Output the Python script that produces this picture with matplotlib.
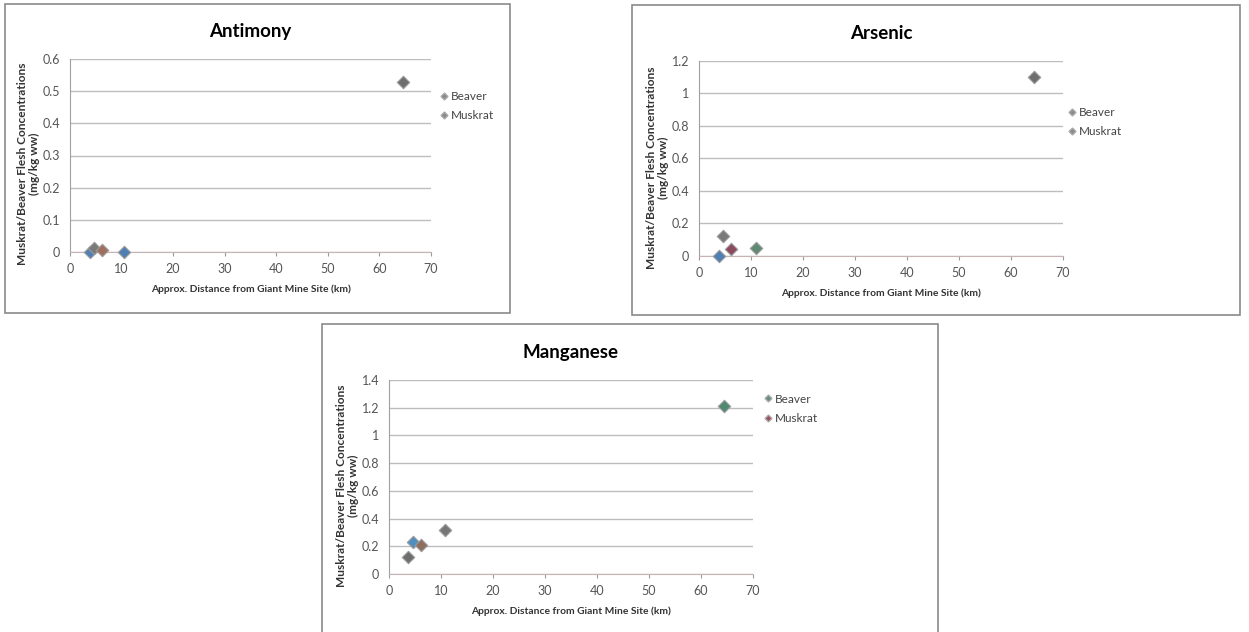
import matplotlib.pyplot as plt
from matplotlib.lines import Line2D
from matplotlib.patches import Rectangle

plt.rcParams["font.family"] = ["Lato", "DejaVu Sans"]

# each panel: one point per sampling site (Excel gave each site its own series colour)
antimony_x = [3.8, 4.6, 6.2, 10.5, 64.5]
antimony_y = [0.0, 0.012, 0.006, 0.0, 0.53]
arsenic_x = [3.8, 4.6, 6.2, 10.9, 64.5]
arsenic_y = [0.0, 0.12, 0.04, 0.05, 1.10]
manganese_x = [3.7, 4.6, 6.2, 10.8, 64.5]
manganese_y = [0.12, 0.23, 0.21, 0.32, 1.21]

antimony_colors = ["#4f7fb3", "#7a7a7a", "#a0705e", "#4f7fb3", "#6e6e6e"]
arsenic_colors = ["#4f7fb3", "#7a7a7a", "#8c4a5c", "#5f8a72", "#6e6e6e"]
manganese_colors = ["#6e6e6e", "#4f8fc0", "#8e6e5e", "#777777", "#4f8a70"]

legend_labels = ["Beaver", "Muskrat"]

y_label = "Muskrat/Beaver Flesh Concentrations\n(mg/kg ww)"
x_label = "Approx. Distance from Giant Mine Site (km)"

W, H = 1249, 632


def frame(fig, x0, y0, x1, y1):
    fig.patches.append(Rectangle((x0 / W, 1 - y1 / H), (x1 - x0) / W, (y1 - y0) / H,
                                 transform=fig.transFigure, fill=False,
                                 edgecolor="#8a8a8a", linewidth=1.2))


def panel(fig, rect, title, xs, ys, colors, ymax, ystep, legend_colors, legend_pos):
    ax = fig.add_axes(rect)
    for x, y, c in zip(xs, ys, colors):
        ax.scatter(x, y, marker="D", s=40, color=c, edgecolor="#9a9a9a",
                   linewidth=0.8, zorder=3, clip_on=False)
    ax.set_xlim(0, 70)
    ax.set_ylim(0, ymax)
    ax.set_xticks(range(0, 71, 10))
    n = int(round(ymax / ystep))
    yt = [round(i * ystep, 2) for i in range(n + 1)]
    ax.set_yticks(yt)
    ax.set_yticklabels([f"{v:g}" for v in yt])
    ax.grid(axis="y", color="#bdbdbd", linewidth=1.0)
    ax.set_axisbelow(True)
    for s in ["top", "right"]:
        ax.spines[s].set_visible(False)
    ax.spines["left"].set_color("#a0a0a0")
    ax.spines["bottom"].set_color("#c8b4b4")
    ax.tick_params(axis="both", labelsize=9, colors="#9a9a9a", labelcolor="#555555",
                   length=3, width=0.8)
    ax.tick_params(axis="y", length=0, pad=7)
    ax.tick_params(axis="x", direction="out", pad=5)
    ax.set_title(title, fontsize=13.5, fontweight="bold", pad=16)
    ax.set_xlabel(x_label, fontsize=7.4, fontweight="bold", color="#333333", labelpad=7)
    ax.set_ylabel(y_label, fontsize=8.6, fontweight="bold", color="#333333", labelpad=2,
                  linespacing=1.1, y=0.455)
    handles = [Line2D([], [], marker="D", linestyle="none", markersize=3.5, color=c,
                      markeredgecolor="#aaaaaa") for c in legend_colors]
    ax.legend(handles, legend_labels, loc="upper left", bbox_to_anchor=legend_pos,
              frameon=False, fontsize=8.5, handletextpad=0.1, handlelength=1.0,
              labelspacing=0.7, labelcolor="#444444")
    return ax


fig = plt.figure(figsize=(12.49, 6.32), dpi=100)

frame(fig, 5, 4, 510, 313)
frame(fig, 632, 5, 1240, 315)
frame(fig, 322, 324, 938, 640)

panel(fig, [70 / W, 1 - 252 / H, 361 / W, 193 / H], "Antimony",
      antimony_x, antimony_y, antimony_colors, 0.6, 0.1,
      ["#8a8a8a", "#8a8a8a"], (0.99, 0.89))
panel(fig, [699 / W, 1 - 256 / H, 364 / W, 195 / H], "Arsenic",
      arsenic_x, arsenic_y, arsenic_colors, 1.2, 0.2,
      ["#8a8a8a", "#8a8a8a"], (0.98, 0.82))
panel(fig, [389 / W, 1 - 574 / H, 364 / W, 194 / H], "Manganese",
      manganese_x, manganese_y, manganese_colors, 1.4, 0.2,
      ["#5f8f7a", "#a04a5a"], (0.995, 0.985))

fig.savefig("out.png", dpi=100)
